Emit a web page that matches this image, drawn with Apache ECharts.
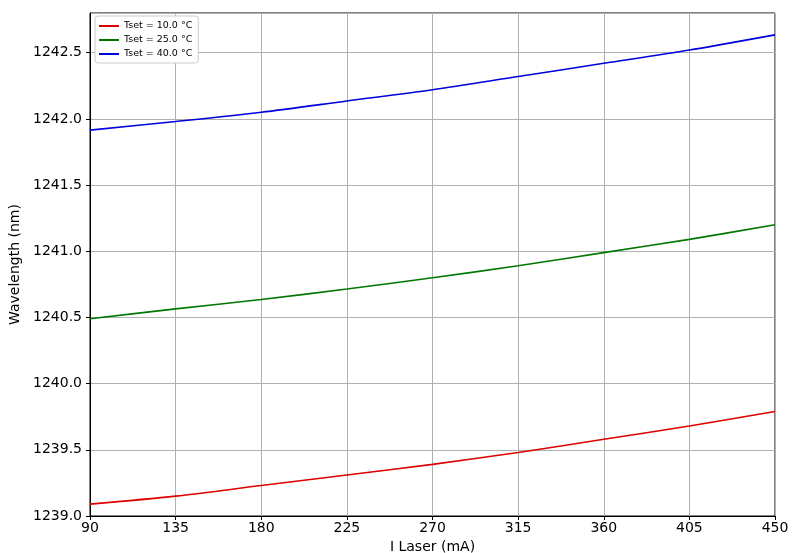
<!DOCTYPE html>
<html><head><meta charset="utf-8">
<script src="https://cdn.jsdelivr.net/npm/echarts@6/dist/echarts.min.js"></script>
<style>html,body{margin:0;padding:0;background:#fff}#c{width:800px;height:553px}</style>
</head><body><div id="c"></div>
<script>
const current = [90, 135, 180, 225, 270, 315, 360, 405, 450];
const seriesNames = ['Tset = 10.0 °C', 'Tset = 25.0 °C', 'Tset = 40.0 °C'];
const wl10 = [1239.09, 1239.15, 1239.23, 1239.31, 1239.39, 1239.48, 1239.58, 1239.68, 1239.79];
const wl25 = [1240.49, 1240.565, 1240.635, 1240.715, 1240.80, 1240.89, 1240.99, 1241.09, 1241.20];
const wl40 = [1241.915, 1241.98, 1242.05, 1242.135, 1242.22, 1242.32, 1242.42, 1242.52, 1242.635];
const colors = ['#dd0000', '#007700', '#0000dd'];
const all = [wl10, wl25, wl40];

const chart = echarts.init(document.getElementById('c'));
const font = 'DejaVu Sans';
chart.setOption({
  animation: false,
  grid: {left: 90, right: 25, top: 13, bottom: 37, outerBoundsMode: 'none', containLabel: false,
    show: true, borderColor: '#000', borderWidth: 1, backgroundColor: 'transparent'},
  legend: {
    left: 95, top: 16, orient: 'vertical', itemGap: 4, itemWidth: 20, itemHeight: 8,
    padding: [5, 6, 4, 4], borderColor: '#cccccc', borderWidth: 1, borderRadius: 3, backgroundColor: '#fff',
    textStyle: {fontFamily: font, fontSize: 9.5, color: '#000'},
    icon: 'path://M0,0 L20,0 L20,2 L0,2 Z',
    data: seriesNames
  },
  xAxis: {
    type: 'value', min: 90, max: 450, interval: 45,
    name: 'I Laser (mA)', nameLocation: 'middle', nameGap: 20,
    nameTextStyle: {fontFamily: font, fontSize: 14, color: '#000'},
    axisLine: {show: true, lineStyle: {color: '#000'}},
    axisTick: {show: true, length: 4, lineStyle: {color: '#000'}},
    axisLabel: {fontFamily: font, fontSize: 14, color: '#000', margin: 5},
    splitLine: {show: true, lineStyle: {color: '#b0b0b0', width: 1}}
  },
  yAxis: {
    type: 'value', min: 1239.0, max: 1242.8, interval: 0.5,
    name: 'Wavelength (nm)', nameLocation: 'middle', nameGap: 62, nameRotate: 90,
    nameTextStyle: {fontFamily: font, fontSize: 14, color: '#000'},
    axisLine: {show: true, lineStyle: {color: '#000'}},
    axisTick: {show: true, length: 4, lineStyle: {color: '#000'}},
    axisLabel: {fontFamily: font, fontSize: 14, color: '#000', margin: 8, showMaxLabel: false,
      formatter: v => v.toFixed(1)},
    splitLine: {show: true, lineStyle: {color: '#b0b0b0', width: 1}}
  },
  series: seriesNames.map((n, i) => ({
    name: n, type: 'line', showSymbol: false, symbol: 'none', smooth: 0.3,
    lineStyle: {color: colors[i], width: 1.6}, itemStyle: {color: colors[i]},
    data: current.map((x, j) => [x, all[i][j]])
  }))
});
</script></body></html>
